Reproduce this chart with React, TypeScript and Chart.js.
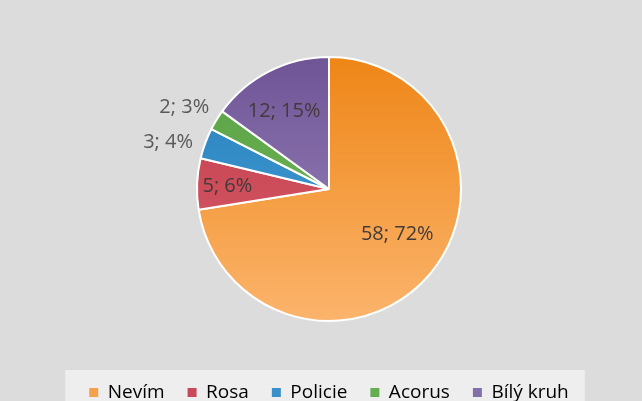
import React, { useEffect, useRef } from "react";
import { Chart, registerables } from "chart.js";

Chart.register(...registerables);

const categories = ["Nevím", "Rosa", "Policie", "Acorus", "Bílý kruh"];
const counts = [58, 5, 3, 2, 12];
const percentLabels = ["72%", "6%", "4%", "3%", "15%"];

// style arrays
const topColors = ["#ee8617", "#c23a4a", "#2a7fbd", "#58a044", "#6f5496"];
const bottomColors = ["#fbb46c", "#d8606c", "#44a3d6", "#76bd5c", "#9f8bbf"];
const legendColors = ["#f5a04a", "#c84a5a", "#3a90c8", "#66ad50", "#8470a8"];
const labelRadius = [0.62, 0.77, 1.27, 1.26, 0.68];
const labelAngleShift = [-7, -1, -4, -2, -3];
const PIE_RADIUS = 132;

const labelPlugin = {
  id: "sliceLabels",
  afterDatasetsDraw(chart: any) {
    const meta = chart.getDatasetMeta(0);
    const ctx = chart.ctx;
    ctx.save();
    ctx.font = "20px 'Open Sans'";
    ctx.textAlign = "center";
    ctx.textBaseline = "middle";
    meta.data.forEach((arc: any, i: number) => {
      const { x, y, startAngle, endAngle, outerRadius } = arc.getProps(
        ["x", "y", "startAngle", "endAngle", "outerRadius"],
        true
      );
      const mid = (startAngle + endAngle) / 2 + (labelAngleShift[i] * Math.PI) / 180;
      const r = outerRadius * labelRadius[i];
      const lx = x + Math.cos(mid) * r;
      const ly = y + Math.sin(mid) * r;
      ctx.fillStyle = labelRadius[i] > 1 ? "#595959" : "#433a3a";
      ctx.fillText(`${counts[i]}; ${percentLabels[i]}`, lx, ly);
    });
    ctx.restore();
  },
};

const legendBgPlugin = {
  id: "legendBg",
  beforeDraw(chart: any) {
    const lg = chart.legend;
    if (!lg || !lg.legendHitBoxes || !lg.legendHitBoxes.length) return;
    const boxes = lg.legendHitBoxes;
    const left = Math.min(...boxes.map((b: any) => b.left)) - 24;
    const right = Math.max(...boxes.map((b: any) => b.left + b.width)) + 16;
    const top = boxes[0].top - 13;
    const ctx = chart.ctx;
    ctx.save();
    ctx.fillStyle = "#eeeeee";
    ctx.fillRect(left, top, right - left, chart.height - top);
    ctx.restore();
  },
};

export default function App() {
  const ref = useRef<HTMLCanvasElement | null>(null);

  useEffect(() => {
    if (!ref.current) return;
    const makeBg = (i: number) => (c: any) => {
      const chart = c.chart;
      const area = chart.chartArea;
      if (!area) return topColors[i];
      const cy = (area.top + area.bottom) / 2;
      const g = chart.ctx.createLinearGradient(0, cy - PIE_RADIUS, 0, cy + PIE_RADIUS);
      g.addColorStop(0, topColors[i]);
      g.addColorStop(1, bottomColors[i]);
      return g;
    };
    const chart = new Chart(ref.current, {
      type: "pie",
      data: {
        labels: categories,
        datasets: [
          {
            data: counts,
            backgroundColor: (c: any) => makeBg(c.dataIndex)(c),
            borderColor: "#ffffff",
            borderWidth: 2,
            radius: PIE_RADIUS,
          } as any,
        ],
      },
      options: {
        responsive: false,
        animation: false,
        layout: { padding: { top: 18, left: 16 } },
        plugins: {
          tooltip: { enabled: false },
          legend: {
            position: "bottom",
            labels: {
              boxWidth: 9,
              boxHeight: 9,
              padding: 23,
              color: "#595959",
              font: { family: "'Open Sans'", size: 19 },
              generateLabels: () =>
                categories.map((t, i) => ({
                  text: t,
                  fillStyle: legendColors[i],
                  strokeStyle: legendColors[i],
                  lineWidth: 0,
                  hidden: false,
                  index: i,
                })),
            },
          },
        },
      } as any,
      plugins: [labelPlugin, legendBgPlugin],
    });
    return () => chart.destroy();
  }, []);

  return (
    <div
      style={{
        position: "fixed",
        left: 0,
        top: 0,
        width: 642,
        height: 401,
        overflow: "hidden",
        background: "#dcdcdc",
      }}
    >
      <canvas ref={ref} width={642} height={412} style={{ display: "block" }} />
    </div>
  );
}
